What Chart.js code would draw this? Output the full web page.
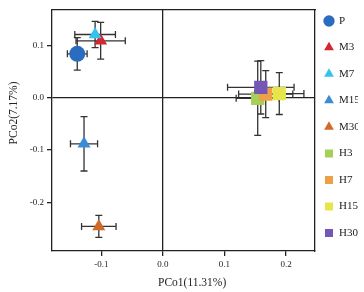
<!DOCTYPE html>
<html>
<head>
<meta charset="utf-8">
<script src="https://cdn.jsdelivr.net/npm/chart.js@4/dist/chart.umd.min.js"></script>
<style>
  html, body { margin: 0; padding: 0; background: #fff; }
  #wrap { width: 364px; height: 292px; }
</style>
</head>
<body>
<div id="wrap"><canvas id="pcoa"></canvas></div>
<script>
// group means on the two first axes, with error (+/-) on each axis
var groups = ['P', 'M3', 'M7', 'M15', 'M30', 'H3', 'H7', 'H15', 'H30'];
var pco1 = [-0.139, -0.101, -0.110, -0.128, -0.104, 0.154, 0.167, 0.189, 0.159];
var pco2 = [0.084, 0.109, 0.121, -0.088, -0.246, -0.001, 0.007, 0.008, 0.020];
var err1 = [0.016, 0.040, 0.033, 0.022, 0.028, 0.035, 0.044, 0.040, 0.054];
var err2 = [0.031, 0.035, 0.025, 0.052, 0.021, 0.071, 0.045, 0.040, 0.051];
var xTicks = [-0.1, 0.0, 0.1, 0.2];
var yTicks = [-0.2, -0.1, 0.0, 0.1];

var colors = ['#2a6cc0', '#d22630', '#35c3ee', '#3b8bd6', '#cf6a2a', '#a6cf5a', '#eea046', '#e6e64a', '#7457b4'];
var shapes = ['circle', 'triangle', 'triangle', 'triangle', 'triangle', 'rect', 'rect', 'rect', 'rect'];
var radii = [8, 7.5, 7.5, 7.5, 7.5, 9.4, 9.4, 9.4, 9.4];

var ink = '#222';
var serif = 'Liberation Serif';

var datasets = groups.map(function(g, i) {
    return {
        label: g,
        data: [{x: pco1[i], y: pco2[i]}],
        pointStyle: shapes[i],
        pointRadius: radii[i],
        backgroundColor: colors[i],
        borderColor: colors[i],
        borderWidth: 0,
        order: groups.length - i   // later groups on top
    };
});

// error bars, drawn under the markers
var errorBars = {
    id: 'errorBars',
    beforeDatasetsDraw: function(chart) {
        var ctx = chart.ctx;
        var xs = chart.scales.x, ys = chart.scales.y;
        var cap = 3.5;
        ctx.save();
        ctx.strokeStyle = '#333';
        ctx.lineWidth = 1.3;
        groups.forEach(function(g, i) {
            var cx = xs.getPixelForValue(pco1[i]);
            var cy = ys.getPixelForValue(pco2[i]);
            var x0 = xs.getPixelForValue(pco1[i] - err1[i]);
            var x1 = xs.getPixelForValue(pco1[i] + err1[i]);
            var y0 = ys.getPixelForValue(pco2[i] - err2[i]);
            var y1 = ys.getPixelForValue(pco2[i] + err2[i]);
            ctx.beginPath();
            ctx.moveTo(x0, cy); ctx.lineTo(x1, cy);
            ctx.moveTo(x0, cy - cap); ctx.lineTo(x0, cy + cap);
            ctx.moveTo(x1, cy - cap); ctx.lineTo(x1, cy + cap);
            ctx.moveTo(cx, y0); ctx.lineTo(cx, y1);
            ctx.moveTo(cx - cap, y0); ctx.lineTo(cx + cap, y0);
            ctx.moveTo(cx - cap, y1); ctx.lineTo(cx + cap, y1);
            ctx.stroke();
        });
        ctx.restore();
    }
};

// pull the legend a bit closer to the plot box
var legendNudge = {
    id: 'legendNudge',
    afterLayout: function(chart) {
        chart.legend.left -= 6;
        chart.legend.right -= 6;
    }
};

function zeroLine(c) {
    return c.tick && c.tick.value === 0 ? ink : 'rgba(0,0,0,0)';
}

var config = {
    type: 'scatter',
    data: { datasets: datasets },
    options: {
        responsive: true,
        maintainAspectRatio: false,
        animation: false,
        events: [],
        layout: { padding: 0 },
        plugins: {
            legend: {
                display: true,
                position: 'right',
                align: 'start',
                fullSize: true,
                maxWidth: 49,
                labels: {
                    usePointStyle: true,
                    boxWidth: 9,
                    boxHeight: 8,
                    padding: 15.5,
                    color: ink,
                    font: { family: serif, size: 11 },
                    sort: function(a, b) { return a.datasetIndex - b.datasetIndex; }
                }
            },
            tooltip: { enabled: false }
        },
        scales: {
            x: {
                type: 'linear',
                position: 'bottom',
                min: -0.18,
                max: 0.247,
                afterBuildTicks: function(a) { a.ticks = xTicks.map(function(v) { return {value: v}; }); },
                afterFit: function(a) { a.height = 41; },
                ticks: {
                    callback: function(v) { return v.toFixed(1); },
                    color: ink,
                    font: { family: serif, size: 9 },
                    padding: 3,
                    maxRotation: 0,
                    autoSkip: false
                },
                grid: { color: zeroLine, lineWidth: 1.3, tickColor: ink, tickLength: 5, tickWidth: 1.3 },
                border: { display: true, color: ink, width: 1.3 },
                title: {
                    display: true,
                    text: '      PCo1(11.31%)',
                    color: ink,
                    font: { family: serif, size: 11.5 },
                    padding: { top: 4, bottom: 2 }
                }
            },
            y: {
                type: 'linear',
                position: 'left',
                min: -0.293,
                max: 0.169,
                afterBuildTicks: function(a) { a.ticks = yTicks.map(function(v) { return {value: v}; }); },
                afterFit: function(a) { a.width = 52; },
                ticks: {
                    callback: function(v) { return v.toFixed(1); },
                    color: ink,
                    font: { family: serif, size: 9 },
                    padding: 3,
                    autoSkip: false
                },
                grid: { color: zeroLine, lineWidth: 1.3, tickColor: ink, tickLength: 5, tickWidth: 1.3 },
                border: { display: true, color: ink, width: 1.3 },
                title: {
                    display: true,
                    text: '            PCo2(7.17%)',
                    color: ink,
                    font: { family: serif, size: 11.5 },
                    padding: { top: 7, bottom: 2 }
                }
            },
            // frame: top and right sides of the plot box
            x2: {
                type: 'linear',
                position: 'top',
                min: -0.18,
                max: 0.247,
                afterFit: function(a) { a.height = 8; },
                ticks: { display: false },
                grid: { display: false, drawTicks: false },
                border: { display: true, color: ink, width: 1.3 }
            },
            y2: {
                type: 'linear',
                position: 'right',
                min: -0.293,
                max: 0.169,
                afterFit: function(a) { a.width = 0; },
                ticks: { display: false },
                grid: { display: false, drawTicks: false },
                border: { display: true, color: ink, width: 1.3 }
            }
        }
    },
    plugins: [errorBars, legendNudge]
};

var ctx = document.getElementById('pcoa');
window.myChart = new Chart(ctx, config);
</script>
</body>
</html>
